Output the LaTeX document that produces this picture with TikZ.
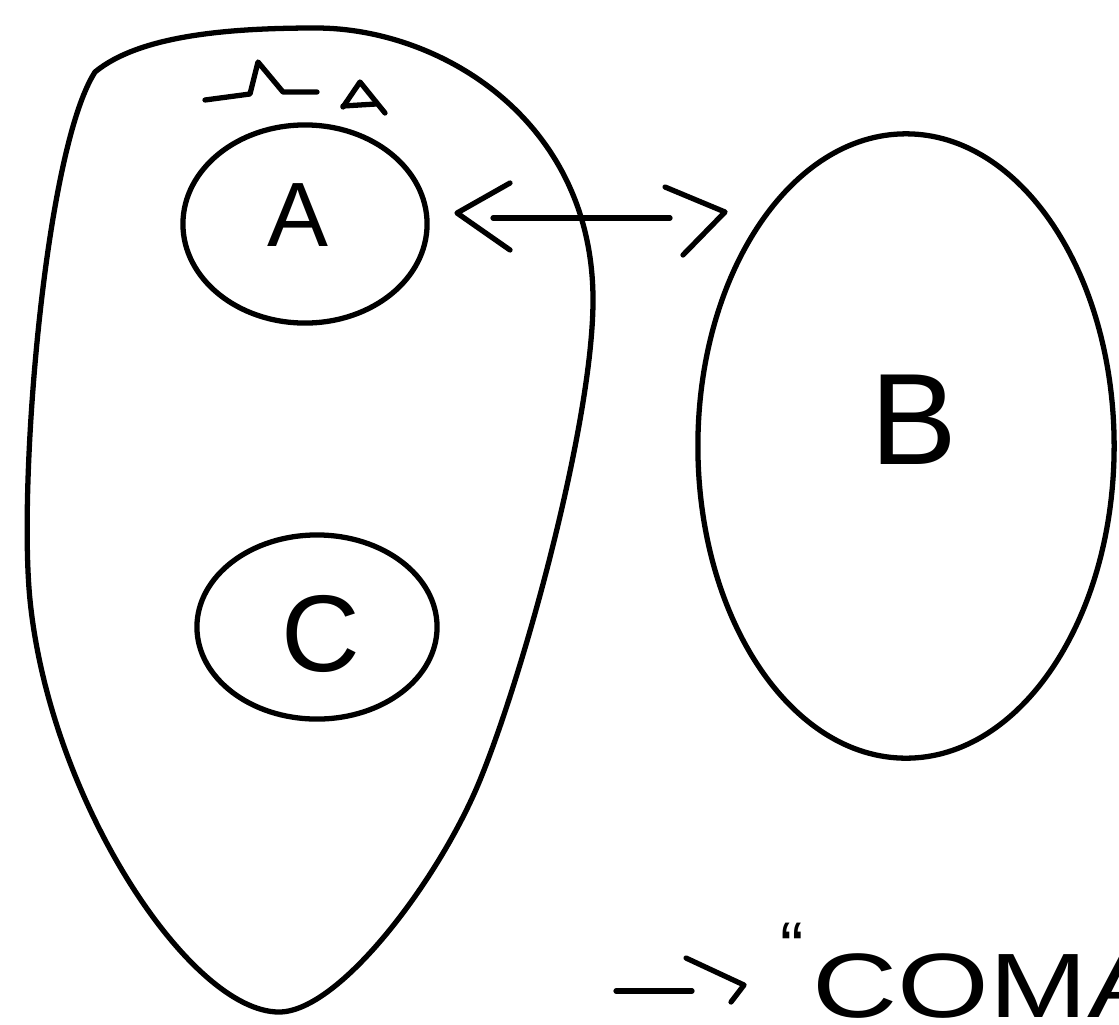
\documentclass[tikz,border=0pt]{standalone}
\usepackage{fontspec}
\setmainfont{Liberation Sans}
\usetikzlibrary{shapes.geometric}
\begin{document}
\begin{tikzpicture}[x=0.01cm, y=-0.01cm,
  pen/.style={line width=1.5pt, line cap=round, line join=round},
  blob/.style={ellipse, draw, pen, inner sep=0pt},
  lab/.style={inner sep=0pt, font=\fontsize{#1}{#1}\selectfont}]
\useasboundingbox (0,0) rectangle (1119,1024);
\clip (0,0) rectangle (1119,1024);

% outer region holding A and C
\draw[pen] (95,72)
  .. controls (140,35) and (230,28) .. (316,28)
  .. controls (440,28) and (593,120) .. (593,300)
  .. controls (593,420) and (525,670) .. (480,780)
  .. controls (440,878) and (340,1012) .. (279,1012)
  .. controls (190,1012) and (50,800) .. (30,600)
  .. controls (18,480) and (45,150) .. cycle;

% mark above A
\draw[pen] (205,100) -- (250,94) -- (258,62) -- (283,92) -- (317,92);
\draw[pen] (343,107) -- (360,82) -- (385,113);
\draw[pen] (343,106) -- (376,104);

% sets
\node[blob, minimum width=2.44cm, minimum height=1.98cm] (A) at (305,224) {};
\node[blob, minimum width=2.40cm, minimum height=1.84cm] (C) at (317,627) {};
\node[blob, minimum width=4.16cm, minimum height=6.24cm] (B) at (906,446) {};

\node[lab=26pt] (Atext) at (298,215) {A};
\node[lab=31pt] (Ctext) at (321,634) {C};
\node[lab=37pt] (Btext) at (914,420) {B};

% double arrow between A and B
\coordinate (lt) at (457,213);
\coordinate (rt) at (725,212);
\coordinate (ls) at (493,218);
\coordinate (re) at (670,218);
\draw[pen] (ls) -- (re);
\draw[pen] (510,183) -- (lt) -- (510,250);
\draw[pen] (665,187) -- (rt) -- (683,255);

% arrow and word at the bottom
\coordinate (bs) at (616,991);
\coordinate (be) at (692,991);
\coordinate (bt) at (744,985);
\draw[pen] (bs) -- (be);
\draw[pen] (686,958) -- (bt) -- (731,1002);
\node[lab=20pt, anchor=north west] (quote) at (780,922) {``};
\node[lab=26pt, anchor=west] (word) at (812,986) {\scalebox{1.29}[1]{COMA}};
\end{tikzpicture}
\end{document}
